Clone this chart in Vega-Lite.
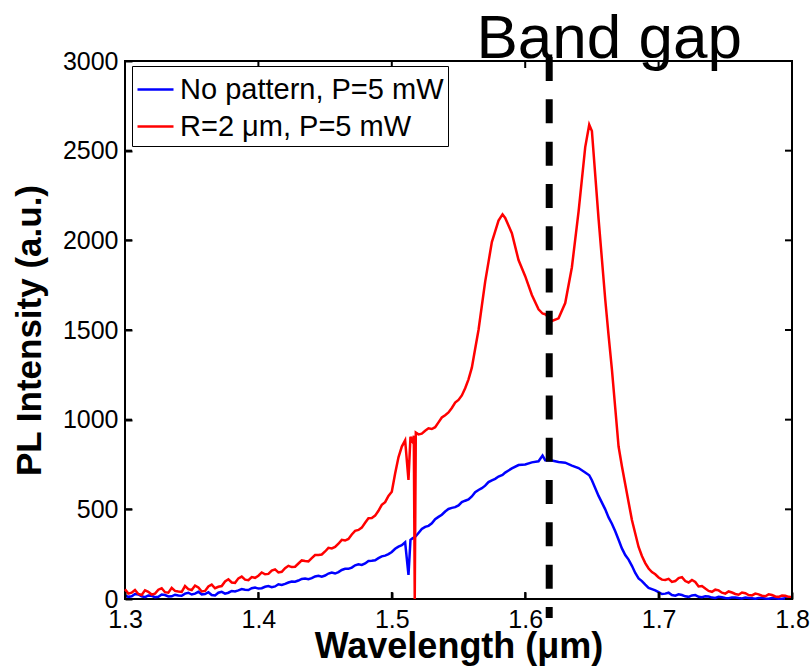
{
  "$schema": "https://vega.github.io/schema/vega-lite/v6.json",
  "width": 667,
  "height": 538,
  "autosize": {"type": "none"},
  "padding": {"left": 125, "top": 61, "right": 19, "bottom": 72},
  "background": "white",
  "config": {
    "font": "Liberation Sans",
    "view": {"stroke": "black", "strokeWidth": 2},
    "axis": {"grid": false, "domain": false, "labelColor": "black", "tickColor": "black", "titleColor": "black", "labelFlush": false, "labelOverlap": false}
  },
  "datasets": {
    "tx": [{"t": 1.3}, {"t": 1.4}, {"t": 1.5}, {"t": 1.6}, {"t": 1.7}, {"t": 1.8}],
    "ty": [{"t": 0}, {"t": 500}, {"t": 1000}, {"t": 1500}, {"t": 2000}, {"t": 2500}, {"t": 3000}],
    "pl": [
      {"w": 1.300, "b": 20, "r": 55}, {"w": 1.305, "b": 15, "r": 35}, {"w": 1.310, "b": 25, "r": 28},
      {"w": 1.315, "b": 10, "r": 48}, {"w": 1.320, "b": 18, "r": 25}, {"w": 1.325, "b": 12, "r": 52},
      {"w": 1.330, "b": 22, "r": 38}, {"w": 1.335, "b": 15, "r": 62}, {"w": 1.340, "b": 20, "r": 42},
      {"w": 1.345, "b": 30, "r": 72}, {"w": 1.350, "b": 25, "r": 50}, {"w": 1.355, "b": 40, "r": 64},
      {"w": 1.360, "b": 28, "r": 45}, {"w": 1.365, "b": 22, "r": 80}, {"w": 1.370, "b": 35, "r": 68},
      {"w": 1.375, "b": 30, "r": 98}, {"w": 1.380, "b": 45, "r": 92}, {"w": 1.385, "b": 48, "r": 115},
      {"w": 1.390, "b": 52, "r": 108}, {"w": 1.395, "b": 60, "r": 122}, {"w": 1.400, "b": 58, "r": 130},
      {"w": 1.405, "b": 68, "r": 138}, {"w": 1.410, "b": 66, "r": 158}, {"w": 1.415, "b": 82, "r": 148},
      {"w": 1.420, "b": 84, "r": 172}, {"w": 1.425, "b": 97, "r": 178}, {"w": 1.430, "b": 103, "r": 198},
      {"w": 1.435, "b": 114, "r": 212}, {"w": 1.440, "b": 116, "r": 228}, {"w": 1.445, "b": 130, "r": 246},
      {"w": 1.450, "b": 131, "r": 265}, {"w": 1.455, "b": 148, "r": 282}, {"w": 1.460, "b": 150, "r": 308},
      {"w": 1.465, "b": 168, "r": 326}, {"w": 1.470, "b": 175, "r": 360}, {"w": 1.475, "b": 193, "r": 385},
      {"w": 1.480, "b": 198, "r": 425}, {"w": 1.485, "b": 213, "r": 452}, {"w": 1.490, "b": 228, "r": 492},
      {"w": 1.495, "b": 242, "r": 540}, {"w": 1.500, "b": 262, "r": 598}, {"w": 1.505, "b": 292, "r": 790},
      {"w": 1.510, "b": 316, "r": 885}, {"w": 1.5125, "b": 134, "r": 664}, {"w": 1.514, "b": 330, "r": 905},
      {"w": 1.5155, "b": 338, "r": 880}, {"w": 1.5165, "b": 342, "r": 910}, {"w": 1.5172, "b": 345, "r": 0},
      {"w": 1.518, "b": 350, "r": 928}, {"w": 1.520, "b": 368, "r": 918}, {"w": 1.525, "b": 402, "r": 938},
      {"w": 1.530, "b": 422, "r": 948}, {"w": 1.535, "b": 458, "r": 985}, {"w": 1.540, "b": 488, "r": 1025},
      {"w": 1.545, "b": 508, "r": 1065}, {"w": 1.550, "b": 522, "r": 1110}, {"w": 1.555, "b": 548, "r": 1175},
      {"w": 1.560, "b": 572, "r": 1290}, {"w": 1.565, "b": 608, "r": 1500}, {"w": 1.570, "b": 632, "r": 1770},
      {"w": 1.575, "b": 662, "r": 1990}, {"w": 1.580, "b": 683, "r": 2110}, {"w": 1.583, "b": 692, "r": 2145},
      {"w": 1.585, "b": 705, "r": 2125}, {"w": 1.590, "b": 728, "r": 2040}, {"w": 1.595, "b": 747, "r": 1890},
      {"w": 1.600, "b": 750, "r": 1800}, {"w": 1.605, "b": 762, "r": 1695}, {"w": 1.610, "b": 768, "r": 1615},
      {"w": 1.613, "b": 800, "r": 1592}, {"w": 1.615, "b": 774, "r": 1588}, {"w": 1.620, "b": 772, "r": 1550},
      {"w": 1.625, "b": 764, "r": 1565}, {"w": 1.630, "b": 760, "r": 1650}, {"w": 1.635, "b": 744, "r": 1850},
      {"w": 1.640, "b": 730, "r": 2160}, {"w": 1.645, "b": 705, "r": 2520}, {"w": 1.648, "b": 690, "r": 2645},
      {"w": 1.650, "b": 662, "r": 2610}, {"w": 1.655, "b": 575, "r": 2120}, {"w": 1.660, "b": 500, "r": 1670},
      {"w": 1.665, "b": 420, "r": 1280}, {"w": 1.670, "b": 330, "r": 850}, {"w": 1.675, "b": 245, "r": 640},
      {"w": 1.680, "b": 185, "r": 440}, {"w": 1.685, "b": 115, "r": 290}, {"w": 1.690, "b": 80, "r": 200},
      {"w": 1.695, "b": 55, "r": 150}, {"w": 1.700, "b": 38, "r": 120}, {"w": 1.705, "b": 30, "r": 106},
      {"w": 1.710, "b": 22, "r": 95}, {"w": 1.715, "b": 26, "r": 117}, {"w": 1.720, "b": 15, "r": 100},
      {"w": 1.725, "b": 20, "r": 106}, {"w": 1.730, "b": 12, "r": 70}, {"w": 1.735, "b": 15, "r": 58},
      {"w": 1.740, "b": 8, "r": 40}, {"w": 1.745, "b": 12, "r": 48}, {"w": 1.750, "b": 6, "r": 30},
      {"w": 1.755, "b": 9, "r": 36}, {"w": 1.760, "b": 5, "r": 24}, {"w": 1.765, "b": 8, "r": 32},
      {"w": 1.770, "b": 4, "r": 20}, {"w": 1.775, "b": 6, "r": 26}, {"w": 1.780, "b": 3, "r": 15},
      {"w": 1.785, "b": 5, "r": 22}, {"w": 1.790, "b": 2, "r": 12}, {"w": 1.795, "b": 4, "r": 18},
      {"w": 1.800, "b": 3, "r": 10},
      {"w": 1.3025, "b": 12, "r": 30}, {"w": 1.3075, "b": 28, "r": 50}, {"w": 1.3125, "b": 15, "r": 22},
      {"w": 1.3175, "b": 20, "r": 40}, {"w": 1.3225, "b": 10, "r": 30}, {"w": 1.3275, "b": 25, "r": 60},
      {"w": 1.3325, "b": 14, "r": 35}, {"w": 1.3375, "b": 24, "r": 45}, {"w": 1.3425, "b": 18, "r": 40},
      {"w": 1.3475, "b": 35, "r": 55}, {"w": 1.3525, "b": 30, "r": 75}, {"w": 1.3575, "b": 26, "r": 42},
      {"w": 1.3625, "b": 38, "r": 70}, {"w": 1.3675, "b": 20, "r": 60}, {"w": 1.3725, "b": 40, "r": 72},
      {"w": 1.3775, "b": 35, "r": 110}, {"w": 1.3825, "b": 42, "r": 90}, {"w": 1.3875, "b": 55, "r": 125},
      {"w": 1.3925, "b": 50, "r": 105}, {"w": 1.3975, "b": 64, "r": 118}, {"w": 1.4025, "b": 60, "r": 148},
      {"w": 1.4075, "b": 72, "r": 140}, {"w": 1.4125, "b": 70, "r": 165}, {"w": 1.4175, "b": 78, "r": 152},
      {"w": 1.4225, "b": 92, "r": 185}, {"w": 1.4275, "b": 96, "r": 180}, {"w": 1.4325, "b": 112, "r": 215},
      {"w": 1.4375, "b": 110, "r": 210}, {"w": 1.4425, "b": 126, "r": 245}, {"w": 1.4475, "b": 125, "r": 248},
      {"w": 1.4525, "b": 142, "r": 285}, {"w": 1.4575, "b": 142, "r": 290}, {"w": 1.4625, "b": 162, "r": 330},
      {"w": 1.4675, "b": 168, "r": 335}, {"w": 1.4725, "b": 188, "r": 380}, {"w": 1.4775, "b": 190, "r": 398},
      {"w": 1.4825, "b": 212, "r": 450}, {"w": 1.4875, "b": 216, "r": 465}, {"w": 1.4925, "b": 238, "r": 525},
      {"w": 1.4975, "b": 250, "r": 575}, {"w": 1.5025, "b": 280, "r": 700}, {"w": 1.5075, "b": 300, "r": 850},
      {"w": 1.5225, "b": 390, "r": 922}, {"w": 1.5275, "b": 408, "r": 952}, {"w": 1.5325, "b": 445, "r": 958},
      {"w": 1.5375, "b": 470, "r": 1012}, {"w": 1.5425, "b": 502, "r": 1040}, {"w": 1.5475, "b": 512, "r": 1095},
      {"w": 1.5525, "b": 540, "r": 1135}, {"w": 1.5575, "b": 555, "r": 1225}, {"w": 1.5625, "b": 595, "r": 1395},
      {"w": 1.5675, "b": 618, "r": 1635}, {"w": 1.5725, "b": 652, "r": 1880}, {"w": 1.5775, "b": 670, "r": 2050},
      {"w": 1.6625, "b": 455, "r": 1470}, {"w": 1.6675, "b": 378, "r": 1065}, {"w": 1.6725, "b": 282, "r": 740},
      {"w": 1.6775, "b": 220, "r": 540}, {"w": 1.6825, "b": 145, "r": 365}, {"w": 1.6875, "b": 100, "r": 240},
      {"w": 1.6925, "b": 62, "r": 170}, {"w": 1.6975, "b": 48, "r": 138}, {"w": 1.7025, "b": 28, "r": 108},
      {"w": 1.7075, "b": 35, "r": 112}, {"w": 1.7125, "b": 18, "r": 100}, {"w": 1.7175, "b": 22, "r": 122},
      {"w": 1.7225, "b": 12, "r": 92}, {"w": 1.7275, "b": 22, "r": 95}, {"w": 1.7325, "b": 10, "r": 72},
      {"w": 1.7375, "b": 14, "r": 45}, {"w": 1.7425, "b": 6, "r": 52}, {"w": 1.7475, "b": 10, "r": 35},
      {"w": 1.7525, "b": 4, "r": 42}, {"w": 1.7575, "b": 8, "r": 28}, {"w": 1.7625, "b": 3, "r": 36},
      {"w": 1.7675, "b": 6, "r": 22}, {"w": 1.7725, "b": 2, "r": 30}, {"w": 1.7775, "b": 5, "r": 18},
      {"w": 1.7825, "b": 2, "r": 26}, {"w": 1.7875, "b": 4, "r": 14}, {"w": 1.7925, "b": 1, "r": 20},
      {"w": 1.7975, "b": 3, "r": 12}
    ]
  },
  "layer": [
    {
      "data": {"name": "pl"},
      "transform": [{"fold": ["b", "r"], "as": ["s", "v"]}],
      "mark": {"type": "line", "strokeWidth": 2.5},
      "encoding": {
        "x": {"field": "w", "type": "quantitative", "scale": {"domain": [1.3, 1.8], "nice": false},
          "axis": {"orient": "bottom", "offset": -7, "values": [1.3, 1.4, 1.5, 1.6, 1.7, 1.8], "format": ".1f", "ticks": true, "tickSize": 7, "tickWidth": 2, "tickColor": "black", "zindex": 1, "labelFontSize": 25, "labelPadding": 8, "title": "Wavelength (μm)", "titleFontSize": 36, "titleFontWeight": "bold", "titlePadding": -3}},
        "y": {"field": "v", "type": "quantitative", "scale": {"domain": [0, 3000], "nice": false},
          "axis": {"orient": "left", "offset": -7, "values": [0, 500, 1000, 1500, 2000, 2500, 3000], "format": "d", "ticks": true, "tickSize": 7, "tickWidth": 2, "tickColor": "black", "zindex": 1, "labelFontSize": 25, "labelPadding": 7, "title": "PL Intensity (a.u.)", "titleFontSize": 35, "titleFontWeight": "bold", "titlePadding": 15}},
        "color": {"field": "s", "type": "nominal", "scale": {"domain": ["b", "r"], "range": ["#0000ff", "#ff0000"]},
          "legend": {"orient": "none", "legendX": 7, "legendY": 5, "title": null, "fillColor": "white", "strokeColor": "black", "padding": 4, "labelFontSize": 29, "labelColor": "black", "symbolType": "stroke", "symbolSize": 1296, "symbolStrokeWidth": 2.5, "rowPadding": 2, "labelOffset": 5, "labelLimit": 0,
            "labelExpr": "datum.label == 'b' ? 'No pattern, P=5 mW' : 'R=2 μm, P=5 mW'"}}
      }
    },
    {
      "data": {"name": "tx"},
      "mark": {"type": "tick", "orient": "vertical", "size": 7, "thickness": 2, "color": "black", "yOffset": -3.5, "opacity": 1},
      "encoding": {
        "x": {"field": "t", "type": "quantitative", "axis": null},
        "y": {"datum": 0, "type": "quantitative", "axis": null}
      }
    },
    {
      "data": {"name": "tx"},
      "mark": {"type": "tick", "orient": "vertical", "size": 7, "thickness": 2, "color": "black", "yOffset": 3.5, "opacity": 1},
      "encoding": {
        "x": {"field": "t", "type": "quantitative", "axis": null},
        "y": {"datum": 3000, "type": "quantitative", "axis": null}
      }
    },
    {
      "data": {"name": "ty"},
      "mark": {"type": "tick", "orient": "horizontal", "size": 7, "thickness": 2, "color": "black", "xOffset": 3.5, "opacity": 1},
      "encoding": {
        "y": {"field": "t", "type": "quantitative", "axis": null},
        "x": {"datum": 1.3, "type": "quantitative", "axis": null}
      }
    },
    {
      "data": {"name": "ty"},
      "mark": {"type": "tick", "orient": "horizontal", "size": 7, "thickness": 2, "color": "black", "xOffset": -3.5, "opacity": 1},
      "encoding": {
        "y": {"field": "t", "type": "quantitative", "axis": null},
        "x": {"datum": 1.8, "type": "quantitative", "axis": null}
      }
    },
    {
      "data": {"values": [{}]},
      "mark": {"type": "rule", "strokeWidth": 7, "strokeDash": [24, 18.3], "color": "black"},
      "encoding": {
        "x": {"datum": 1.618, "type": "quantitative", "axis": null},
        "y": {"datum": 3022, "type": "quantitative", "axis": null},
        "y2": {"datum": -106}
      }
    },
    {
      "data": {"values": [{}]},
      "mark": {"type": "text", "text": "Band gap", "fontSize": 62, "baseline": "alphabetic", "align": "center", "color": "black"},
      "encoding": {
        "x": {"datum": 1.663, "type": "quantitative", "axis": null},
        "y": {"datum": 3017, "type": "quantitative", "axis": null}
      }
    }
  ],
  "resolve": {"axis": {"x": "independent", "y": "independent"}}
}
